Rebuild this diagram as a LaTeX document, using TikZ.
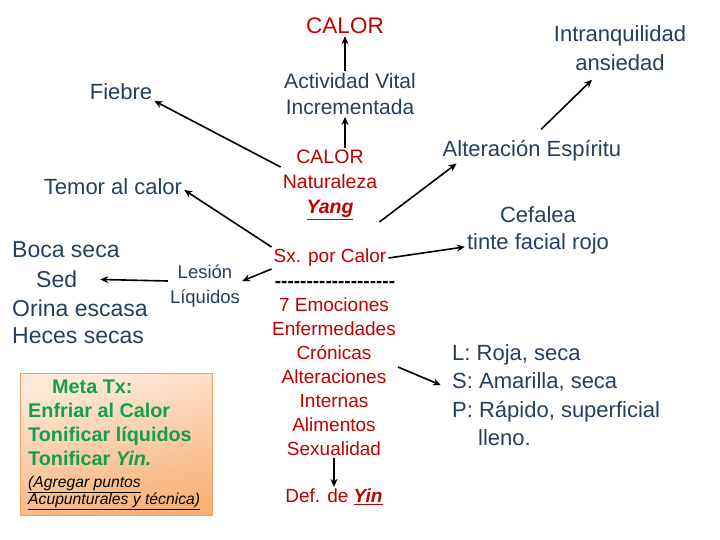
\documentclass[tikz,border=0pt]{standalone}
\usepackage{fontspec}
\setmainfont{Liberation Sans}
\usetikzlibrary{positioning,arrows.meta}
\definecolor{azul}{HTML}{253F5E}
\definecolor{rojo}{HTML}{C00000}
\definecolor{verde}{HTML}{12A04C}
\definecolor{durazno}{HTML}{FDEADC}
\definecolor{naranja}{HTML}{F9B074}
\definecolor{borde}{HTML}{EFA062}
\newcommand{\guion}{\mbox{-}}

\begin{document}
\begin{tikzpicture}[
    x=1pt, y=-1pt,
    azultxt/.style={text=azul, font=\fontsize{22}{27}\selectfont, align=center, inner sep=2pt},
    rojotxt/.style={text=rojo, font=\fontsize{19}{24}\selectfont, align=center, inner sep=2pt},
    flecha/.style={draw=black, line width=1.6pt, -{Stealth[length=8pt,width=7pt]}}
]
    \useasboundingbox (0,0) rectangle (720,540);

    % Recuadro del tratamiento (fondo)
    \shade[draw=borde, line width=0.8pt, top color=durazno, bottom color=naranja, shading angle=12] (20,373) rectangle (212,515);

    % Columna central
    \node[rojotxt, font=\fontsize{22.5}{26}\selectfont] (calor) at (345,26) {CALOR};
    \node[azultxt, font=\fontsize{21}{26}\selectfont] (actividad) at (350,94) {Actividad Vital\\ Incrementada};
    \node[rojotxt, font=\fontsize{19.5}{25}\selectfont] (naturaleza) at (330,185) {CALOR\\Naturaleza\\\underline{\textbf{\textit{Yang}}}};
    \node[rojotxt] (sx) at (330,258) {Sx. por Calor};
    \node[rojotxt, font=\fontsize{19}{24}\selectfont\bfseries, text=black] (raya) at (335,284) {\guion\guion\guion\guion\guion\guion\guion\guion\guion\guion\guion\guion\guion\guion\guion\guion\guion\guion\guion};
    \node[rojotxt] (causas) at (334,377) {7 Emociones\\Enfermedades\\Crónicas\\Alteraciones\\Internas\\Alimentos\\Sexualidad};
    \node[rojotxt] (defyin) at (334,497) {Def. de \underline{\textbf{\textit{Yin}}}};

    % Lado izquierdo
    \node[azultxt] (fiebre) at (121,92) {Fiebre};
    \node[azultxt] (temor) at (113,187) {Temor al calor};
    \node[azultxt, font=\fontsize{18.5}{25}\selectfont] (lesion) at (205,286) {Lesión\\Líquidos};
    \node[azultxt, font=\fontsize{23}{28}\selectfont, anchor=west] (boca) at (10,250) {Boca seca};
    \node[azultxt, font=\fontsize{23}{28}\selectfont, anchor=west] (sed) at (34,279) {Sed};
    \node[azultxt, font=\fontsize{23}{28}\selectfont, anchor=west] (orina) at (10,308) {Orina escasa};
    \node[azultxt, font=\fontsize{23}{28}\selectfont, anchor=west] (heces) at (10,336) {Heces secas};

    % Texto del tratamiento
    \node[anchor=north west, text=verde, font=\fontsize{19.8}{24}\selectfont\bfseries, align=left, inner sep=2pt] (metatx) at (26,378)
        {\hspace*{24pt}Meta Tx:\\Enfriar al Calor\\Tonificar líquidos\\Tonificar \textit{Yin.}};
    \node[anchor=north west, font=\fontsize{15.7}{17}\selectfont\itshape, align=left, inner sep=2pt] (nota) at (26,474)
        {\underline{(Agregar puntos}\\\underline{Acupunturales y técnica)}};

    % Lado derecho
    \node[azultxt, font=\fontsize{22}{29}\selectfont] (intranq) at (620,48) {Intranquilidad\\ansiedad};
    \node[azultxt] (alteracion) at (532,151) {Alteración Espíritu};
    \node[azultxt] (cefalea) at (538,230) {Cefalea\\tinte facial rojo};
    \node[azultxt, font=\fontsize{22}{28.3}\selectfont, align=left, anchor=west] (lengua) at (450,395)
        {L: Roja, seca\\S: Amarilla, seca\\P: Rápido, superficial\\\hspace*{26pt}lleno.};

    % Flechas
    \draw[flecha] (actividad.north -| calor.south) -- (calor.south);
    \draw[flecha] (naturaleza.north -| calor.south) -- (actividad.south -| calor.south);
    \draw[flecha] (naturaleza.160) -- (fiebre.-15);
    \draw[flecha] (sx.north west) -- ([yshift=-3pt]temor.east);
    \draw[flecha] (sx.south west) -- ([yshift=5pt]lesion.east);
    \draw[flecha, shorten >=21pt] ([yshift=5pt]lesion.west) -- (sed.east);
    \draw[flecha] (naturaleza.south east) -- ([xshift=16pt]alteracion.south west);
    \draw[flecha] ([xshift=9pt, yshift=9pt]alteracion.north) -- ([xshift=-28pt, yshift=-7pt]intranq.south);
    \draw[flecha] (sx.east) -- (cefalea.-167);
    \draw[flecha, shorten >=10pt] ([yshift=10pt]causas.east) -- ([yshift=6pt]lengua.west);
    \draw[flecha] (causas.south) -- (defyin.north);

\end{tikzpicture}
\end{document}
